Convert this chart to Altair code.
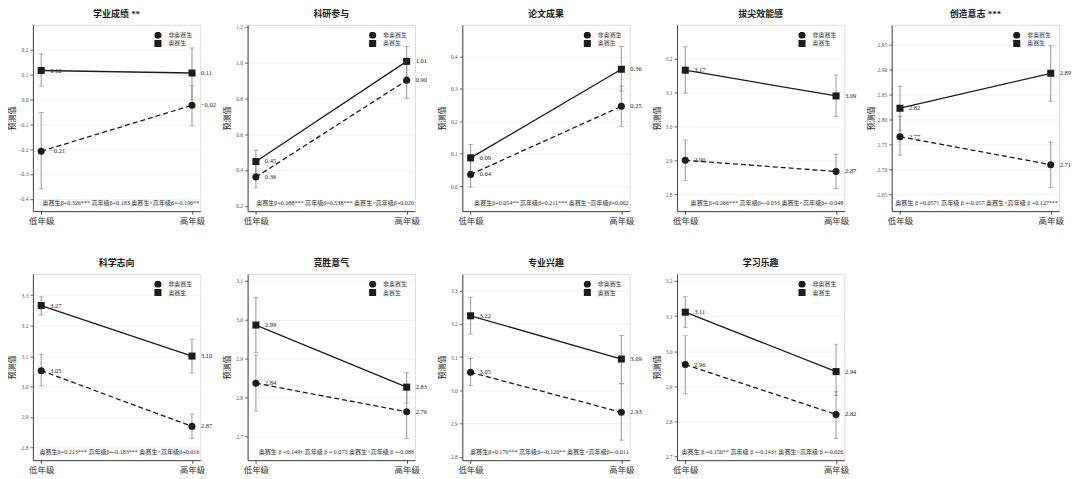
import altair as alt
import pandas as pd

# ---------------- data ----------------
titles = ["学业成绩 **", "科研参与", "论文成果", "拔尖效能感", "创造意志 ***",
          "科学志向", "竞胜意气", "专业兴趣", "学习乐趣"]
grades = ["低年级", "高年级"]
groups = ["非奥赛生", "奥赛生"]

# predicted values [低年级, 高年级]
non_est = [[-0.209, -0.024], [0.36, 0.90], [0.036, 0.246], [2.90, 2.867], [2.766, 2.71],
           [3.052, 2.869], [2.837, 2.764], [3.054, 2.934], [2.962, 2.82]]
non_lo = [[-0.36, -0.107], [0.30, 0.80], [-0.003, 0.183], [2.84, 2.817], [2.729, 2.664],
          [3.002, 2.83], [2.766, 2.695], [3.014, 2.85], [2.879, 2.752]]
non_hi = [[-0.053, 0.056], [0.43, 1.00], [0.078, 0.308], [2.96, 2.918], [2.807, 2.755],
          [3.106, 2.91], [2.909, 2.83], [3.096, 3.02], [3.044, 2.885]]
oly_est = [[0.116, 0.106], [0.447, 1.006], [0.087, 0.36], [3.166, 3.09], [2.823, 2.893],
           [3.266, 3.10], [2.986, 2.827], [3.224, 3.094], [3.111, 2.942]]
oly_lo = [[0.053, 0.0], [0.38, 0.92], [0.046, 0.293], [3.098, 3.03], [2.778, 2.837],
          [3.235, 3.044], [2.915, 2.786], [3.169, 3.02], [3.068, 2.874]]
oly_hi = [[0.183, 0.207], [0.51, 1.09], [0.128, 0.43], [3.235, 3.152], [2.867, 2.948],
          [3.295, 3.155], [3.057, 2.864], [3.28, 3.165], [3.155, 3.02]]

y_min = [-0.45, 0.17, -0.077, 2.75, 2.617, 2.758, 2.64, 2.79, 2.69]
y_max = [0.30, 1.21, 0.497, 3.30, 2.99, 3.37, 3.117, 3.35, 3.22]
y_ticks = [
    [-0.4, -0.3, -0.2, -0.1, 0.0, 0.1, 0.2],
    [0.2, 0.4, 0.6, 0.8, 1.0, 1.2],
    [0.0, 0.1, 0.2, 0.3, 0.4],
    [2.8, 2.9, 3.0, 3.1, 3.2],
    [2.65, 2.70, 2.75, 2.80, 2.85, 2.90, 2.95],
    [2.8, 2.9, 3.0, 3.1, 3.2, 3.3],
    [2.7, 2.8, 2.9, 3.0, 3.1],
    [2.8, 2.9, 3.0, 3.1, 3.2, 3.3],
    [2.7, 2.8, 2.9, 3.0, 3.1, 3.2],
]
tick_fmt = [".1f", ".1f", ".1f", ".1f", ".2f", ".1f", ".1f", ".1f", ".1f"]

notes = [
    "奥赛生β=0.326*** 高年级β=0.183 奥赛生×高年级β=-0.196**",
    "奥赛生β=0.088*** 高年级β=0.538*** 奥赛生×高年级β=0.020",
    "奥赛生β=0.054** 高年级β=0.211*** 奥赛生×高年级β=0.062",
    "奥赛生β=0.266*** 高年级β=-0.033 奥赛生×高年级β=-0.048",
    "奥赛生 β =0.057† 高年级 β =-0.057 奥赛生×高年级 β =0.127***",
    "奥赛生β=0.213*** 高年级β=-0.183*** 奥赛生×高年级β=0.016",
    "奥赛生 β =0.149† 高年级 β = 0.073 奥赛生×高年级 β =-0.088",
    "奥赛生β=0.170*** 高年级β=-0.120** 奥赛生×高年级β=-0.011",
    "奥赛生 β =0.150** 高年级 β =-0.143† 奥赛生×高年级 β =-0.026",
]

# ---------------- style ----------------
W, H = 168, 187
FONT = "Liberation Serif, Noto Sans CJK SC"
INK = "#1c1c1c"


def panel(i):
    rows = []
    for g, est, lo, hi in [("非奥赛生", non_est, non_lo, non_hi),
                           ("奥赛生", oly_est, oly_lo, oly_hi)]:
        for k, gr in enumerate(grades):
            rows.append({"group": g, "grade": gr, "est": est[i][k],
                         "lo": lo[i][k], "hi": hi[i][k]})
    df = pd.DataFrame(rows)
    base = alt.Chart(df)

    x = alt.X("grade:N", sort=grades, title=None,
              scale=alt.Scale(type="point", domain=grades, padding=0.055),
              axis=alt.Axis(labelAngle=0, labelFontSize=8.5, labelColor="#333",
                            labelFont=FONT, tickSize=3, labelPadding=2,
                            domainColor="#444", tickColor="#444", grid=False))
    yscale = alt.Scale(domain=[y_min[i], y_max[i]], nice=False, zero=False)
    yaxis = alt.Axis(values=y_ticks[i], format=tick_fmt[i], labelFontSize=5.5,
                     labelColor="#555", labelFont=FONT, tickSize=3, labelPadding=2,
                     tickColor="#666", domainColor="#444", grid=True,
                     gridColor="#ededed", gridWidth=0.8, title="预测值",
                     titleFontSize=8, titleFont=FONT, titleFontWeight="normal",
                     titleColor="#222", titleX=-16, titleAngle=-90)

    def Y(field):
        return alt.Y(f"{field}:Q", scale=yscale, axis=yaxis, title="预测值")

    rule = base.mark_rule(color="#8a8a8a", strokeWidth=0.9).encode(
        x=x, y=Y("lo"), y2="hi:Q")
    cap_lo = base.mark_tick(color="#8a8a8a", size=5, thickness=0.9).encode(x=x, y=Y("lo"))
    cap_hi = base.mark_tick(color="#8a8a8a", size=5, thickness=0.9).encode(x=x, y=Y("hi"))

    line_non = base.transform_filter(alt.datum.group == groups[0]).mark_line(
        color=INK, strokeWidth=1.3, strokeDash=[5, 3]).encode(x=x, y=Y("est"))
    line_oly = base.transform_filter(alt.datum.group == groups[1]).mark_line(
        color=INK, strokeWidth=1.3).encode(x=x, y=Y("est"))

    pts = base.mark_point(filled=True, opacity=1, color=INK, size=50).encode(
        x=x, y=Y("est"),
        shape=alt.Shape("group:N", scale=alt.Scale(domain=groups, range=["circle", "square"]),
                        legend=alt.Legend(orient="top-right", title=None, offset=7, padding=0,
                                          symbolSize=50, labelFontSize=6, labelFont=FONT,
                                          labelColor="#333", rowPadding=1.2, labelOffset=6,
                                          clipHeight=7,
                                          symbolFillColor=INK, symbolStrokeColor=INK)))

    labels = base.mark_text(align="left", baseline="middle", dx=9, fontSize=6.5,
                            font=FONT, color="#222").encode(
        x=x, y=Y("est"), text=alt.Text("est:Q", format=".2f"))

    note = alt.Chart(pd.DataFrame({"t": [notes[i]]})).mark_text(
        align="right", baseline="middle", fontSize=6.1, font=FONT, color="#2a2a2a").encode(
        text="t:N", x=alt.value(W - 1), y=alt.value(H - 8))

    return alt.layer(rule, cap_lo, cap_hi, line_non, line_oly, pts, labels, note).properties(
        width=W, height=H,
        title=alt.TitleParams(titles[i], fontSize=9, font=FONT, fontWeight="bold",
                              color="#1a1a1a", offset=6, anchor="middle"))


chart = alt.concat(*[panel(i) for i in range(9)], columns=5,
                   spacing={"row": 63, "column": 47.5}, bounds="flush")
chart = chart.resolve_scale(
    shape="independent", y="independent", x="independent"
).resolve_legend(shape="independent").properties(
    padding=0
).configure_view(stroke=None).configure(background="white")

chart.save("out.html", embed_options={"renderer": "svg", "actions": False})
